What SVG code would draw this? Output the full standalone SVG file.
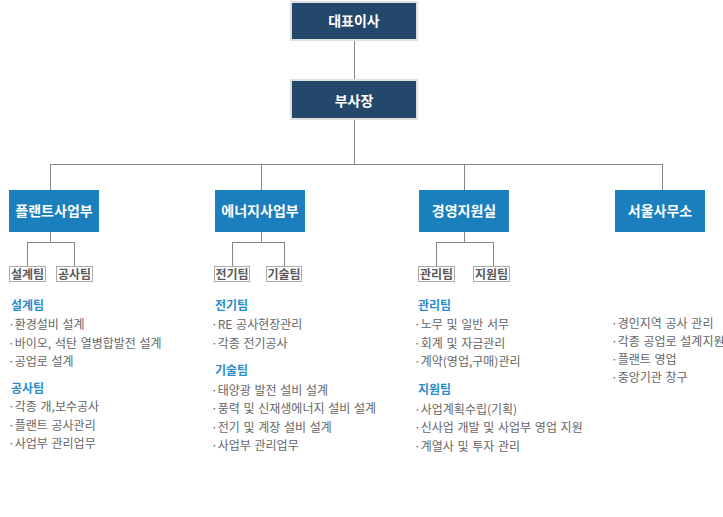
<svg xmlns="http://www.w3.org/2000/svg" width="723" height="517" viewBox="0 0 723 517">
<style>
text{font-family:"Noto Sans CJK KR","Noto Sans",sans-serif}
.top rect{fill:#24486c;stroke:#e0e0e0;stroke-width:2}
.dept rect{fill:#1b7fbd}
.bl{fill:#fff;font-size:14px;font-weight:bold;text-anchor:middle}
.team rect{fill:#fff;stroke:#aaa;stroke-width:1}
.tl{fill:#5a5a5a;font-size:12px;font-weight:bold;text-anchor:middle}
.hd{fill:#2b8ccd;font-size:12px;font-weight:bold}
.it{fill:#666;font-size:12px;word-spacing:1px}
.conn path{fill:none;stroke:#888;stroke-width:1}
</style>
<rect width="723" height="517" fill="#fff"/>
<g class="conn">
<path d="M354.5 41V79M354.5 120V164.5M50.5 164.5H662.5M50.5 164V190M261.5 164V190M464.5 164V190M662.5 164V190"/>
<path d="M50.5 232V242.5M27.5 242.5H74.5M27.5 242V266M74.5 242V266"/>
<path d="M261.5 232V242.5M232.5 242.5H284.5M232.5 242V266M284.5 242V266"/>
<path d="M464.5 232V242.5M436.5 242.5H493.5M436.5 242V266M493.5 242V266"/>
</g>
<g id="ceo" class="top"><rect x="291" y="2" width="126" height="38"/><text class="bl" x="354" y="26">대표이사</text></g>
<g id="vp" class="top"><rect x="291" y="80" width="126" height="39"/><text class="bl" x="354" y="106">부사장</text></g>
<g id="plant" class="dept"><rect x="9" y="190" width="90" height="42"/><text class="bl" x="54" y="216">플랜트사업부</text></g>
<g id="energy" class="dept"><rect x="215" y="190" width="90" height="42"/><text class="bl" x="260" y="216">에너지사업부</text></g>
<g id="mgmt" class="dept"><rect x="419" y="190" width="90" height="42"/><text class="bl" x="464" y="216">경영지원실</text></g>
<g id="seoul" class="dept"><rect x="615" y="190" width="90" height="42"/><text class="bl" x="660" y="216">서울사무소</text></g>
<g id="t-design" class="team"><rect x="9.5" y="266.5" width="36" height="15"/><text class="tl" x="27.5" y="278.5">설계팀</text></g>
<g id="t-const" class="team"><rect x="56.5" y="266.5" width="36" height="15"/><text class="tl" x="74.5" y="278.5">공사팀</text></g>
<g id="t-elec" class="team"><rect x="214.5" y="266.5" width="35" height="15"/><text class="tl" x="232" y="278.5">전기팀</text></g>
<g id="t-tech" class="team"><rect x="266.5" y="266.5" width="35" height="15"/><text class="tl" x="284" y="278.5">기술팀</text></g>
<g id="t-admin" class="team"><rect x="418.5" y="266.5" width="36" height="15"/><text class="tl" x="436.5" y="278.5">관리팀</text></g>
<g id="t-support" class="team"><rect x="473.5" y="266.5" width="36" height="15"/><text class="tl" x="491.5" y="278.5">지원팀</text></g>
<g id="desc-plant">
<text class="hd" x="11" y="310">설계팀</text>
<text class="it" x="8" y="329">·환경설비 설계</text>
<text class="it" x="8" y="347.5">·바이오, 석탄 열병합발전 설계</text>
<text class="it" x="8" y="366">·공업로 설계</text>
<text class="hd" x="11" y="393">공사팀</text>
<text class="it" x="8" y="411">·각종 개,보수공사</text>
<text class="it" x="8" y="429.5">·플랜트 공사관리</text>
<text class="it" x="8" y="448">·사업부 관리업무</text>
</g>
<g id="desc-energy">
<text class="hd" x="215" y="310">전기팀</text>
<text class="it" x="211" y="329">·RE 공사현장관리</text>
<text class="it" x="211" y="347.5">·각종 전기공사</text>
<text class="hd" x="215" y="375">기술팀</text>
<text class="it" x="211" y="394.5">·태양광 발전 설비 설계</text>
<text class="it" x="211" y="413">·풍력 및 신재생에너지 설비 설계</text>
<text class="it" x="211" y="431.5">·전기 및 계장 설비 설계</text>
<text class="it" x="211" y="450">·사업부 관리업무</text>
</g>
<g id="desc-mgmt">
<text class="hd" x="418" y="310">관리팀</text>
<text class="it" x="414" y="329">·노무 및 일반 서무</text>
<text class="it" x="414" y="347.5">·회계 및 자금관리</text>
<text class="it" x="414" y="366">·계약(영업,구매)관리</text>
<text class="hd" x="418" y="393.5">지원팀</text>
<text class="it" x="414" y="413.5">·사업계획수립(기획)</text>
<text class="it" x="414" y="432">·신사업 개발 및 사업부 영업 지원</text>
<text class="it" x="414" y="450.5">·계열사 및 투자 관리</text>
</g>
<g id="desc-seoul">
<text class="it" x="611" y="328">·경인지역 공사 관리</text>
<text class="it" x="611" y="346">·각종 공업로 설계지원</text>
<text class="it" x="611" y="364">·플랜트 영업</text>
<text class="it" x="611" y="382">·중앙기관 창구</text>
</g>
</svg>
